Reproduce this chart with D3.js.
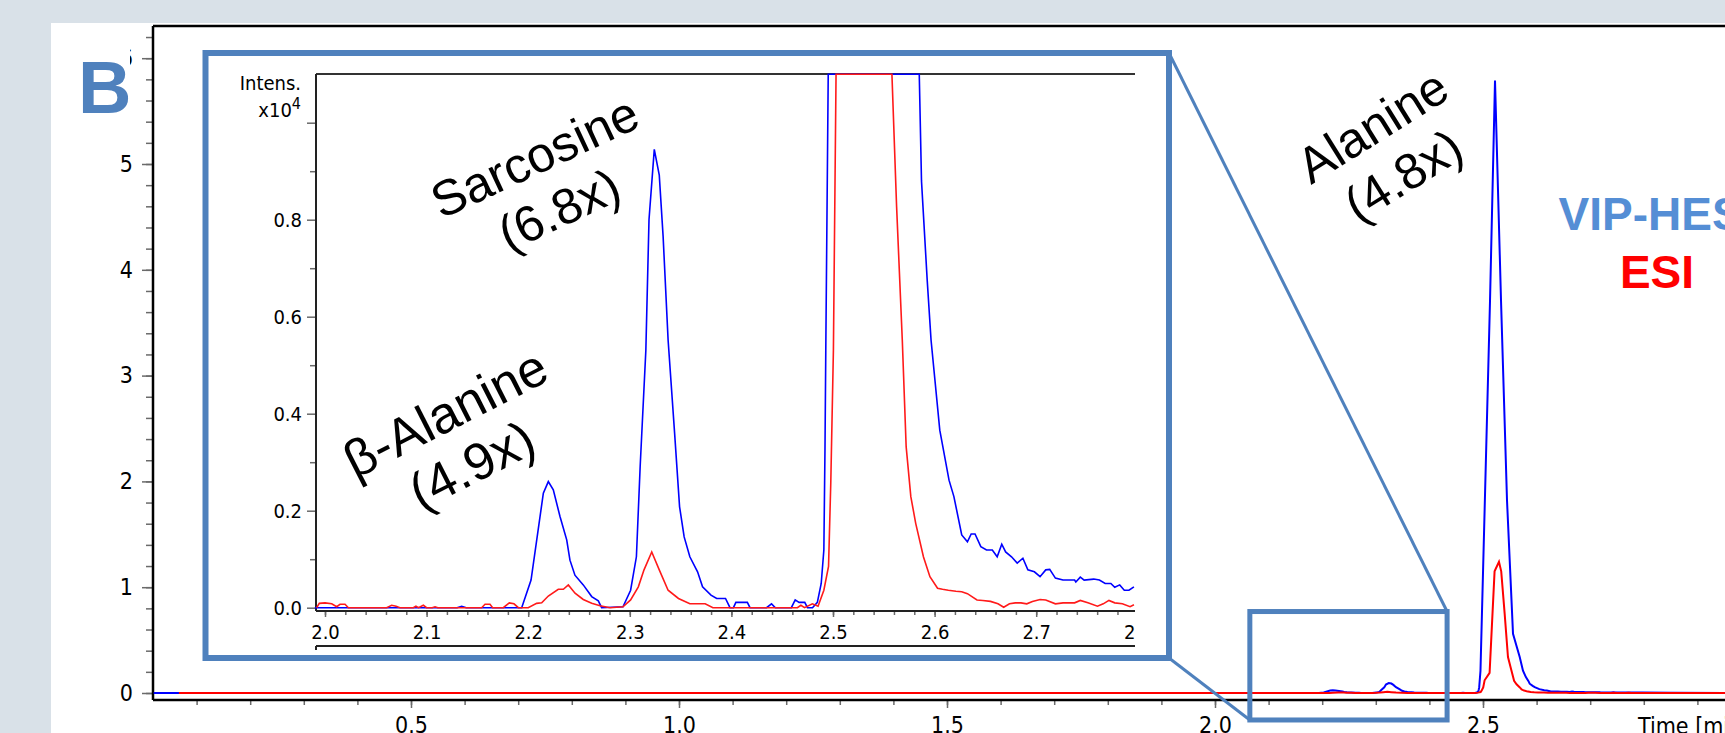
<!DOCTYPE html>
<html>
<head>
<meta charset="utf-8">
<script src="https://cdn.jsdelivr.net/npm/d3@7"></script>
<style>
html, body { margin: 0; padding: 0; background: #d9e1e8; overflow: hidden; }
svg { display: block; }
.ax text { font-family: "DejaVu Sans Condensed", "DejaVu Sans", sans-serif; font-stretch: condensed; fill: #000; }
.ax .domain { display: none; }
.ax line { stroke: #6a6a6a; stroke-width: 1.5; }
.note { font-family: "Liberation Sans", Arial, sans-serif; fill: #000; }
</style>
</head>
<body>
<script>
// chromatogram traces, intensity in x10^4, time in min
var blueTime = [0.020, 1.990, 2.000, 2.130, 2.1345, 2.139, 2.1936, 2.2028, 2.2149, 2.2198, 2.2247, 2.2313,
  2.2379, 2.2411, 2.246, 2.2542, 2.2625, 2.269, 2.2723, 2.2933, 2.3008, 2.3065, 2.3102, 2.3158, 2.3189,
  2.3241, 2.329, 2.3328, 2.3377, 2.3441, 2.349, 2.3535, 2.3591, 2.3667, 2.3716, 2.3799, 2.3855, 2.3942,
  2.3986, 2.402, 2.4044, 2.4157, 2.4183, 2.4346, 2.4395, 2.4433, 2.459, 2.4628, 2.4666, 2.4722, 2.4749,
  2.4798, 2.4846, 2.4884, 2.491, 2.4921, 2.4929, 2.4953, 2.5131, 2.5224, 2.5336, 2.5448, 2.556, 2.5616,
  2.5685, 2.5746, 2.580, 2.5849, 2.5871, 2.5927, 2.5965, 2.6051, 2.6142, 2.619, 2.6267, 2.6323, 2.636,
  2.6398, 2.6455, 2.6511, 2.6568, 2.6616, 2.6661, 2.6699, 2.6757, 2.6813, 2.6869, 2.6918, 2.6982, 2.7038,
  2.7094, 2.7133, 2.7189, 2.7264, 2.7378, 2.739, 2.7434, 2.7472, 2.7566, 2.7622, 2.7679, 2.7735, 2.7773,
  2.7822, 2.7867, 2.7913, 2.7962, 2.850, 3.000];
var blueIntens = [0, 0, 0, 0, 0.003, 0, 0, 0.057, 0.236, 0.260, 0.243, 0.188,
  0.140, 0.098, 0.067, 0.047, 0.023, 0.014, 0, 0.002, 0.036, 0.105, 0.291, 0.531, 0.80,
  0.945, 0.892, 0.765, 0.552, 0.36, 0.208, 0.146, 0.105, 0.074, 0.043, 0.026, 0.019, 0.019,
  0, 0, 0.011, 0.011, 0, 0, 0.008, 0, 0, 0.016, 0.011, 0.011, 0,
  0, 0.011, 0.05, 0.119, 0.325, 0.53, 2.1, 37.1, 57.9, 37.1, 18.2, 5.6, 4.6,
  3.4, 2.1, 1.5, 1.12, 0.88, 0.676, 0.552, 0.366, 0.263, 0.229, 0.15, 0.136, 0.152,
  0.152, 0.126, 0.119, 0.119, 0.105, 0.131, 0.115, 0.105, 0.092, 0.102, 0.078, 0.074, 0.064,
  0.078, 0.079, 0.061, 0.057, 0.057, 0.053, 0.063, 0.057, 0.059, 0.057, 0.050, 0.050, 0.042,
  0.047, 0.036, 0.036, 0.043, 0.02, 0];

var redTime = [0.067, 1.9918, 1.9944, 2.000, 2.0066, 2.0115, 2.0148, 2.0197, 2.023, 2.0607, 2.0656, 2.070,
  2.0738, 2.0869, 2.0895, 2.092, 2.0968, 2.100, 2.1055, 2.1083, 2.111, 2.1542, 2.1575, 2.1624, 2.165,
  2.1755, 2.1814, 2.186, 2.1903, 2.200, 2.2083, 2.2133, 2.2198, 2.2296, 2.2346, 2.2395, 2.2461, 2.2542,
  2.2625, 2.2707, 2.2805, 2.2933, 2.3008, 2.3084, 2.314, 2.3216, 2.329, 2.3377, 2.3479, 2.3591, 2.3742,
  2.3818, 2.465, 2.4684, 2.472, 2.4797, 2.4853, 2.491, 2.4956, 2.4978, 2.5004, 2.503, 2.5123, 2.5216,
  2.5298, 2.534, 2.5404, 2.5466, 2.5528, 2.558, 2.5626, 2.5682, 2.572, 2.5766, 2.5814, 2.589, 2.5954,
  2.6029, 2.6078, 2.6135, 2.621, 2.6267, 2.6323, 2.6417, 2.6474, 2.655, 2.6624, 2.668, 2.6737, 2.6794,
  2.685, 2.6907, 2.6963, 2.7038, 2.7094, 2.7189, 2.7264, 2.7378, 2.7434, 2.7509, 2.7603, 2.766, 2.7716,
  2.7773, 2.7848, 2.7924, 2.7962, 2.850, 3.000];
var redIntens = [0, 0, 0.009, 0.010, 0.008, 0.002, 0.007, 0.007, 0, 0, 0.005, 0.003,
  0, 0, 0.003, 0, 0.005, 0, 0, 0.002, 0, 0, 0.007, 0.007, 0,
  0, 0.010, 0.008, 0, 0, 0.009, 0.010, 0.024, 0.038, 0.038, 0.047, 0.030, 0.017,
  0.009, 0.004, 0, 0.002, 0.016, 0.043, 0.078, 0.115, 0.078, 0.036, 0.019, 0.008, 0.008,
  0, 0, 0.005, 0, 0.008, 0.003, 0.036, 0.085, 0.256, 0.531, 1.2, 1.9, 11.5,
  12.4, 11.5, 7.5, 3.4, 2.17, 1.15, 0.827, 0.552, 0.332, 0.229, 0.174, 0.105, 0.064,
  0.040, 0.038, 0.036, 0.034, 0.033, 0.029, 0.016, 0.015, 0.013, 0.008, 0.001, 0.008, 0.010,
  0.010, 0.008, 0.013, 0.017, 0.016, 0.008, 0.010, 0.010, 0.015, 0.010, 0.003, 0.008, 0.015,
  0.010, 0.008, 0.002, 0.006, 0, 0];

// axis ticks
var mainYTicks = [0, 1, 2, 3, 4, 5, 6];
var mainXTicks = [0.5, 1.0, 1.5, 2.0, 2.5];
var insetYTicks = [0.0, 0.2, 0.4, 0.6, 0.8, 1.0];
var insetYLabels = ["0.0", "0.2", "0.4", "0.6", "0.8", ""];
var insetXTicks = [2.0, 2.1, 2.2, 2.3, 2.4, 2.5, 2.6, 2.7, 2.8];

// annotations
var peakNames = ["Sarcosine", "\u03B2-Alanine", "Alanine"];
var peakGains = ["(6.8x)", "(4.9x)", "(4.8x)"];
// zoomed region of the main trace (time, x10^5)
var zoomTime = [2.065, 2.433];
var zoomIntens = [-0.255, 0.77];

var W = 1725, H = 733;
var frameBlue = "#4f81bd";

var svg = d3.select("body").append("svg")
  .attr("width", W)
  .attr("height", H);

svg.append("rect").attr("width", W).attr("height", H).attr("fill", "#d9e1e8");
svg.append("rect").attr("x", 51).attr("y", 23).attr("width", W - 51).attr("height", H - 23).attr("fill", "#fff");

// ---------- main chromatogram ----------
var xMain = d3.scaleLinear().domain([0, 3]).range([143, 1751]);
var yMain = d3.scaleLinear().domain([0, 6]).range([693, 58.2]);
var mainLeft = 153, mainTop = 26, mainBottom = 700;

var gm = svg.append("g");

gm.append("g").attr("class", "ax")
  .attr("transform", "translate(" + mainLeft + ",0)")
  .call(d3.axisLeft(yMain).tickValues(d3.range(0, 6.3, 0.2)).tickSize(7).tickFormat(""));
gm.append("g").attr("class", "ax")
  .attr("transform", "translate(" + mainLeft + ",0)")
  .call(d3.axisLeft(yMain).tickValues(mainYTicks).tickSize(11).tickPadding(9).tickFormat(d3.format("d")))
  .selectAll("text").attr("font-size", 23);

gm.append("g").attr("class", "ax")
  .attr("transform", "translate(0," + mainBottom + ")")
  .call(d3.axisBottom(xMain).tickValues(d3.range(0.1, 3.01, 0.1)).tickSize(5).tickFormat(""));
gm.append("g").attr("class", "ax")
  .attr("transform", "translate(0," + mainBottom + ")")
  .call(d3.axisBottom(xMain).tickValues(mainXTicks).tickSize(8).tickPadding(9).tickFormat(d3.format(".1f")))
  .selectAll("text").attr("font-size", 23);

// frame lines
gm.append("line").attr("x1", mainLeft).attr("x2", W).attr("y1", mainTop).attr("y2", mainTop)
  .attr("stroke", "#000").attr("stroke-width", 2.5);
gm.append("line").attr("x1", mainLeft).attr("x2", mainLeft).attr("y1", mainTop).attr("y2", mainBottom)
  .attr("stroke", "#000").attr("stroke-width", 2.5);
gm.append("line").attr("x1", mainLeft).attr("x2", W).attr("y1", mainBottom).attr("y2", mainBottom)
  .attr("stroke", "#000").attr("stroke-width", 2.5);

var mainLine = d3.line()
  .x(function(d) { return xMain(d[0]); })
  .y(function(d) { return yMain(d[1] / 10); });

gm.append("path").datum(d3.zip(blueTime, blueIntens))
  .attr("d", mainLine).attr("fill", "none").attr("stroke", "#0000ff").attr("stroke-width", 2);
gm.append("path").datum(d3.zip(redTime, redIntens))
  .attr("d", mainLine).attr("fill", "none").attr("stroke", "#ff0000").attr("stroke-width", 2);

gm.append("text")
  .attr("class", "ax")
  .attr("x", 1638).attr("y", 734)
  .attr("font-size", 23)
  .attr("font-family", "DejaVu Sans Condensed, DejaVu Sans, sans-serif")
  .attr("font-stretch", "condensed")
  .text("Time [min]");

// zoom box and connectors
var zx0 = xMain(zoomTime[0]), zx1 = xMain(zoomTime[1]);
var zy0 = yMain(zoomIntens[1]), zy1 = yMain(zoomIntens[0]);
var inset = { x0: 205.5, y0: 53, x1: 1169, y1: 658 };

svg.append("line").attr("x1", inset.x1).attr("y1", inset.y0).attr("x2", zx1).attr("y2", zy0)
  .attr("stroke", frameBlue).attr("stroke-width", 3);
svg.append("line").attr("x1", inset.x1).attr("y1", inset.y1).attr("x2", zx0).attr("y2", zy1)
  .attr("stroke", frameBlue).attr("stroke-width", 3);
svg.append("rect")
  .attr("x", zx0).attr("y", zy0).attr("width", zx1 - zx0).attr("height", zy1 - zy0)
  .attr("fill", "none").attr("stroke", frameBlue).attr("stroke-width", 5);

// ---------- inset ----------
svg.append("rect")
  .attr("x", inset.x0).attr("y", inset.y0)
  .attr("width", inset.x1 - inset.x0).attr("height", inset.y1 - inset.y0)
  .attr("fill", "#fff").attr("stroke", frameBlue).attr("stroke-width", 6);

var xIn = d3.scaleLinear().domain([2.0, 2.8]).range([325, 1137.8]);
var yIn = d3.scaleLinear().domain([0, 1.1]).range([607.7, 74.2]).clamp(true);
var inLeft = 316, inRight = 1135, inTop = 74, inBottom = 611;

var gi = svg.append("g");

svg.append("clipPath").attr("id", "inClip")
  .append("rect").attr("x", inLeft - 60).attr("y", inTop).attr("width", inRight + 1 - (inLeft - 60)).attr("height", 600);

gi.append("g").attr("class", "ax")
  .attr("transform", "translate(" + inLeft + ",0)")
  .call(d3.axisLeft(yIn).tickValues(d3.range(0.1, 1.0, 0.2)).tickSize(6).tickFormat(""));
gi.append("g").attr("class", "ax")
  .attr("transform", "translate(" + inLeft + ",0)")
  .call(d3.axisLeft(yIn).tickValues(insetYTicks).tickSize(9).tickPadding(5)
    .tickFormat(function(d, i) { return insetYLabels[i]; }))
  .selectAll("text").attr("font-size", 20);

gi.append("g").attr("class", "ax")
  .attr("transform", "translate(0," + inBottom + ")")
  .call(d3.axisBottom(xIn).tickValues(d3.range(2.0, 2.79, 0.02)).tickSize(4).tickFormat(""));
// wrapper carries the clip so it stays in page coordinates
gi.append("g").attr("clip-path", "url(#inClip)")
  .append("g").attr("class", "ax")
  .attr("transform", "translate(0," + inBottom + ")")
  .call(d3.axisBottom(xIn).tickValues(insetXTicks).tickSize(6).tickPadding(8).tickFormat(d3.format(".1f")))
  .selectAll("text").attr("font-size", 20);

gi.append("line").attr("x1", inLeft).attr("x2", inRight).attr("y1", inTop).attr("y2", inTop)
  .attr("stroke", "#333").attr("stroke-width", 2);
gi.append("line").attr("x1", inLeft).attr("x2", inLeft).attr("y1", inTop).attr("y2", inBottom)
  .attr("stroke", "#222").attr("stroke-width", 2);
gi.append("line").attr("x1", inLeft).attr("x2", inRight).attr("y1", inBottom).attr("y2", inBottom)
  .attr("stroke", "#222").attr("stroke-width", 2);
gi.append("line").attr("x1", inLeft).attr("x2", inRight).attr("y1", 646).attr("y2", 646)
  .attr("stroke", "#222").attr("stroke-width", 2);
gi.append("line").attr("x1", inLeft).attr("x2", inLeft).attr("y1", 646).attr("y2", 650)
  .attr("stroke", "#222").attr("stroke-width", 2);

var inLine = d3.line()
  .x(function(d) { return xIn(d[0]); })
  .y(function(d) { return yIn(d[1]); });
var inRange = function(d) { return d[0] >= 1.99 && d[0] <= 2.797; };

gi.append("path").datum(d3.zip(blueTime, blueIntens).filter(inRange))
  .attr("d", inLine).attr("fill", "none").attr("stroke", "#0000ff").attr("stroke-width", 1.6);
gi.append("path").datum(d3.zip(redTime, redIntens).filter(inRange))
  .attr("d", inLine).attr("fill", "none").attr("stroke", "#ff1a1a").attr("stroke-width", 1.6);

var unitText = gi.append("g").attr("class", "ax");
unitText.append("text").attr("x", 301).attr("y", 90).attr("text-anchor", "end")
  .attr("font-size", 20).text("Intens.");
var u2 = unitText.append("text").attr("x", 301).attr("y", 117).attr("text-anchor", "end").attr("font-size", 20);
u2.append("tspan").text("x10");
u2.append("tspan").attr("dy", -8).attr("font-size", 16).text("4");

// ---------- peak annotations ----------
var notePos = [[547, 183.5, -25, 50], [459, 440, -27, 52], [1388, 151, -32, 50]];
notePos.forEach(function(p, i) {
  var t = svg.append("text").attr("class", "note")
    .attr("transform", "translate(" + p[0] + "," + p[1] + ") rotate(" + p[2] + ")")
    .attr("font-size", p[3])
    .attr("text-anchor", "middle");
  t.append("tspan").attr("x", 0).attr("y", -12).text(peakNames[i]);
  t.append("tspan").attr("x", 0).attr("y", 46).text(peakGains[i]);
});

// panel letter
svg.append("rect").attr("x", 70).attr("y", 34).attr("width", 60).attr("height", 90).attr("fill", "#fff");
svg.append("text")
  .attr("x", 78).attr("y", 113)
  .attr("font-family", "Liberation Sans, Arial, sans-serif")
  .attr("font-weight", "bold")
  .attr("font-size", 74)
  .attr("fill", frameBlue)
  .text("B");

// legend
svg.append("text")
  .attr("x", 1657).attr("y", 230)
  .attr("text-anchor", "middle")
  .attr("font-family", "Liberation Sans, Arial, sans-serif")
  .attr("font-weight", "bold")
  .attr("font-size", 46)
  .attr("fill", "#558ed5")
  .text("VIP-HESI");
svg.append("text")
  .attr("x", 1657).attr("y", 288)
  .attr("text-anchor", "middle")
  .attr("font-family", "Liberation Sans, Arial, sans-serif")
  .attr("font-weight", "bold")
  .attr("font-size", 46)
  .attr("fill", "#ff0000")
  .text("ESI");
</script>
</body>
</html>
